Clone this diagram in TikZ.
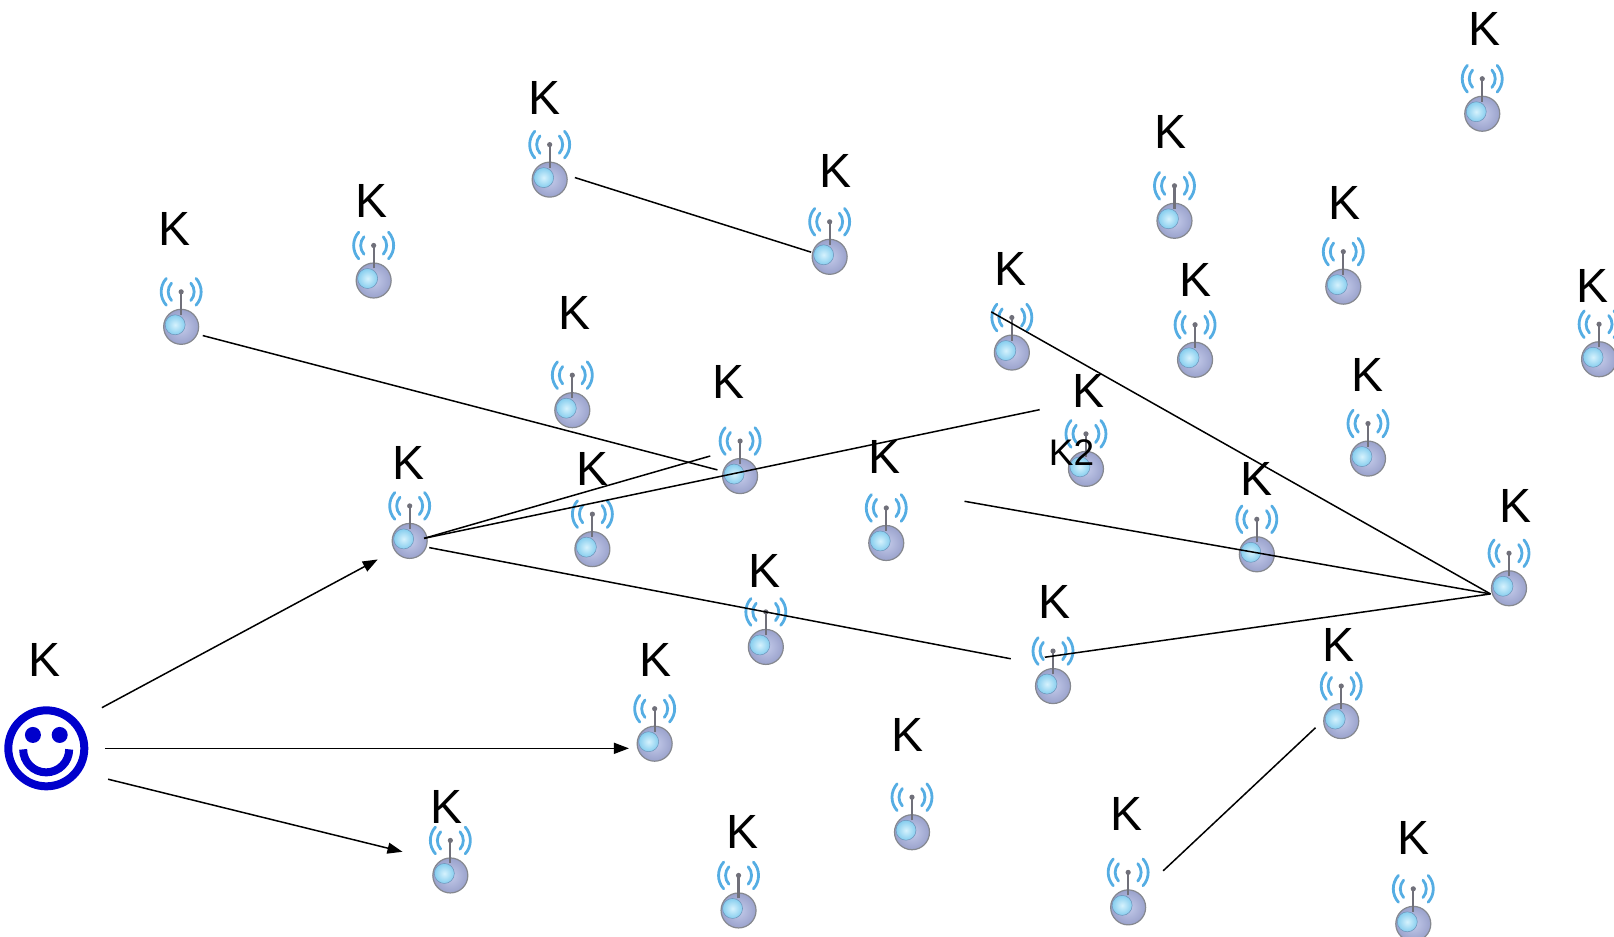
\documentclass[tikz,border=0pt]{standalone}
\usepackage{fontspec}
\setmainfont{Liberation Sans}
\usetikzlibrary{arrows.meta}
\definecolor{wave}{HTML}{55ADE3}
\definecolor{mast}{HTML}{70707A}
\definecolor{smileblue}{HTML}{0000CC}
\definecolor{BallIn}{HTML}{C4CBEA}
\definecolor{BallOut}{HTML}{9AA2CC}
\definecolor{BallEdge}{HTML}{85888F}
\definecolor{GlintIn}{HTML}{D6F2FD}
\definecolor{GlintOut}{HTML}{86CDEE}
\definecolor{GlintEdge}{HTML}{6C93B8}
\tikzset{
  ballnode/.style={circle,minimum size=35pt,inner sep=0pt,shade,inner color=BallIn,outer color=BallOut,draw=BallEdge,line width=1.2pt},
  glint/.style={circle,minimum size=20pt,inner sep=0pt,shade,inner color=GlintIn,outer color=GlintOut,draw=GlintEdge,line width=.5pt},
  wavearc/.style={wave,line width=2.8pt,line cap=round},
  keylabel/.style={font=\fontsize{48}{50}\selectfont,inner sep=0pt,text=black},
  smalllabel/.style={font=\fontsize{37}{40}\selectfont,inner sep=0pt,text=black},
  link/.style={black,line width=1.5pt},
  arrowlink/.style={link,-{Triangle[length=15pt,width=11pt]}},
  smileline/.style={smileblue,line width=8pt}
}
\newcommand{\sensorat}[3]{%
  \node[ballnode] (s#1) at (#2,#3) {};
  \node[glint] (g#1) at ([shift={(-6pt,2pt)}]s#1.center) {};
  \draw[mast,line width=2.2pt] ([yshift=12pt]s#1.center) -- ([yshift=35pt]s#1.center);
  \fill[mast] ([yshift=35pt]s#1.center) circle (2.6pt);
  \foreach \r in {13,20}{
    \draw[wavearc] ([yshift=35pt]s#1.center) ++(138:\r pt) arc[start angle=138,end angle=222,radius=\r pt];
    \draw[wavearc] ([yshift=35pt]s#1.center) ++(42:\r pt) arc[start angle=42,end angle=-42,radius=\r pt];
  }%
}
\begin{document}
\begin{tikzpicture}[x=1.0293pt,y=-1.0293pt]
\useasboundingbox (0,0) rectangle (1568,910);
\clip (0,0) rectangle (1568,910);
\foreach \n/\bx/\by/\kx/\ky in {
 1/534/174.5/529/95.5, 2/806/249.5/811.5/166, 3/176/317.5/170/222.5, 4/363/272.5/361/195.5,
 5/556/398.5/558/304.5, 6/719/462.5/708/371, 7/398/525.5/396.5/449.5, 8/575.5/533.5/575.5/456,
 9/861/527.5/859/443.5, 10/1055/455.5/1057/380, 11/983/342.5/982/261.5, 12/1161/349.5/1161/272,
 13/1141/214.5/1137/128.5, 14/1305/278.5/1306/197.5, 15/1440/110.5/1442.5/28, 16/1553.5/349/1547/277.5,
 17/1329/445.5/1328.5/364, 18/1221/538.5/1221/465.5, 19/1466/571.5/1472/491.5, 20/744/628.5/743/554.5,
 21/1023/666.5/1024/584.5, 22/1303/700.5/1300.5/627, 23/636/722.5/637/641, 24/437.5/850.5/434/783.5,
 25/886/808.5/881.5/714, 26/717.5/884.5/721/808.5, 27/1096/881.5/1094.5/791, 28/1373/897.5/1373.5/814}{
  \sensorat{\n}{\bx}{\by}
  \node[keylabel] (k\n) at (\kx,\ky) {K};
}
% user
\node[circle,minimum size=76pt,inner sep=0pt,draw=smileblue,line width=8pt] (user) at (45,727) {};
\node[keylabel] (kuser) at (43,641.5) {K};
\node[circle,fill=smileblue,minimum size=16pt,inner sep=0pt] (eyeL) at (32,714) {};
\node[circle,fill=smileblue,minimum size=16pt,inner sep=0pt] (eyeR) at (58,714) {};
\coordinate (smileL) at (22.5,728);
\draw[smileline] (smileL) arc[start angle=180,end angle=360,radius=23pt];
\node[smalllabel] (ktwo) at (1041,440) {K2};
% free ends
\coordinate (a1s) at (99,687.5);   \coordinate (a1e) at (367,543.5);
\coordinate (a2s) at (102,727);  \coordinate (a2e) at (611,727);
\coordinate (a3s) at (105,757);  \coordinate (a3e) at (391,827.5);
\coordinate (l1s) at (558.5,172.5);  \coordinate (l1e) at (788,245);
\coordinate (l2s) at (197,326);  \coordinate (l2e) at (697,456.5);
\coordinate (l3s) at (412,523);  \coordinate (l3e) at (690,443);
\coordinate (l4e) at (1010,398);
\coordinate (l5s) at (417,532);  \coordinate (l5e) at (982,640);
\coordinate (hub) at (1448,577);
\coordinate (l6s) at (937,487);
\coordinate (l7s) at (963,303);
\coordinate (l8s) at (1015,638.5);
\coordinate (l9s) at (1130,846); \coordinate (l9e) at (1278,707);
\draw[arrowlink] (a1s) -- (a1e);
\draw[arrowlink] (a2s) -- (a2e);
\draw[arrowlink] (a3s) -- (a3e);
\draw[link] (l1s) -- (l1e);
\draw[link] (l2s) -- (l2e);
\draw[link] (l3s) -- (l3e);
\draw[link] (l3s) -- (l4e);
\draw[link] (l5s) -- (l5e);
\draw[link] (l6s) -- (hub);
\draw[link] (l7s) -- (hub);
\draw[link] (l8s) -- (hub);
\draw[link] (l9s) -- (l9e);
\end{tikzpicture}
\end{document}
